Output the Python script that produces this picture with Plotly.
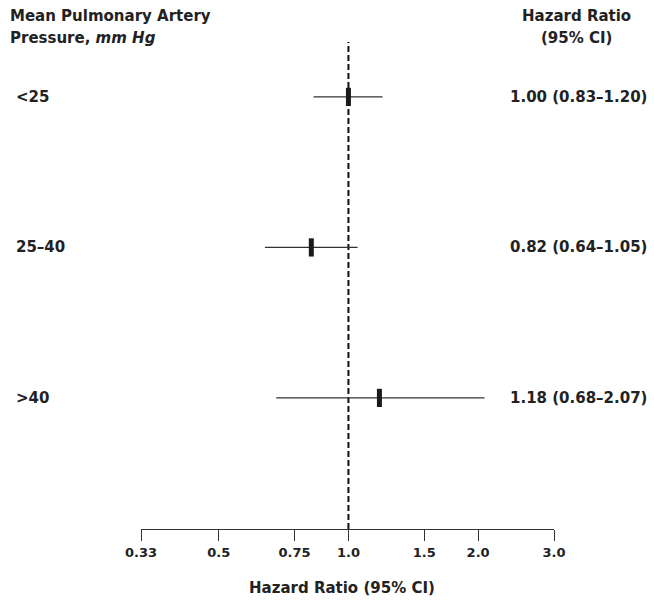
import math
import plotly.graph_objects as go

categories = ["<25", "25–40", ">40"]
hr = [1.00, 0.82, 1.18]
ci_lo = [0.83, 0.64, 0.68]
ci_hi = [1.20, 1.05, 2.07]
hr_labels = ["1.00 (0.83–1.20)", "0.82 (0.64–1.05)", "1.18 (0.68–2.07)"]
tick_vals = [0.33, 0.5, 0.75, 1.0, 1.5, 2.0, 3.0]
tick_text = ["0.33", "0.5", "0.75", "1.0", "1.5", "2.0", "3.0"]

FONT = "DejaVu Sans"
TXT = "#222222"
W, H = 654, 603
ML, MR, MT, MB = 141, 100, 42, 74
PW = W - ML - MR
PH = H - MT - MB


def px_x(p):
    return (p - ML) / PW


def px_y(p):
    return 1 - (p - MT) / PH


fig = go.Figure()
fig.add_trace(go.Scatter(
    x=hr, y=categories, mode="markers",
    marker=dict(symbol="line-ns", size=13, line=dict(width=5, color="#1a1a1a")),
    error_x=dict(type="data", symmetric=False,
                 array=[h - e for h, e in zip(ci_hi, hr)],
                 arrayminus=[e - l for e, l in zip(hr, ci_lo)],
                 width=0, thickness=1.3, color="#333333"),
    showlegend=False, hoverinfo="skip",
))

fig.add_shape(type="line", xref="x", yref="paper", x0=1.0, x1=1.0, y0=0, y1=1,
              line=dict(color="#111111", width=2, dash="6px,3px"), layer="below")

annos = []
bold = dict(family=FONT, size=15, color=TXT, weight="bold")
annos.append(dict(text="Mean Pulmonary Artery", xref="paper", yref="paper",
                  x=px_x(8), y=px_y(16), xanchor="left", yanchor="middle",
                  showarrow=False, font=bold))
annos.append(dict(text="Pressure, <i>mm Hg</i>", xref="paper", yref="paper",
                  x=px_x(8), y=px_y(38), xanchor="left", yanchor="middle",
                  showarrow=False, font=bold))
annos.append(dict(text="Hazard Ratio", xref="paper", yref="paper",
                  x=px_x(576), y=px_y(16), xanchor="center", yanchor="middle",
                  showarrow=False, font=bold))
annos.append(dict(text="(95% CI)", xref="paper", yref="paper",
                  x=px_x(576), y=px_y(38), xanchor="center", yanchor="middle",
                  showarrow=False, font=bold))
for c, lab in zip(categories, hr_labels):
    annos.append(dict(text=c, xref="paper", yref="y", x=px_x(14), y=c,
                      xanchor="left", yanchor="middle", showarrow=False, font=bold))
    annos.append(dict(text=lab, xref="paper", yref="y", x=px_x(578), y=c,
                      xanchor="center", yanchor="middle", showarrow=False, font=bold))
annos.append(dict(text="Hazard Ratio (95% CI)", xref="paper", yref="paper",
                  x=px_x(342), y=px_y(588), xanchor="center", yanchor="middle",
                  showarrow=False, font=bold))

fig.update_layout(
    width=W, height=H,
    margin=dict(l=ML, r=MR, t=MT, b=MB),
    paper_bgcolor="white", plot_bgcolor="white",
    annotations=annos,
    xaxis=dict(type="log", range=[math.log10(0.33), math.log10(3.0)],
               tickvals=tick_vals, ticktext=tick_text,
               ticks="outside", ticklen=11, tickwidth=1, tickcolor="#333333",
               showline=True, linecolor="#333333", linewidth=1,
               showgrid=False, zeroline=False,
               tickfont=dict(family=FONT, size=13, color=TXT, weight="bold")),
    yaxis=dict(type="category", categoryarray=categories,
               range=[2.871, -0.365], showticklabels=False,
               showgrid=False, zeroline=False, showline=False, ticks=""),
)

fig.write_html("out.html")
